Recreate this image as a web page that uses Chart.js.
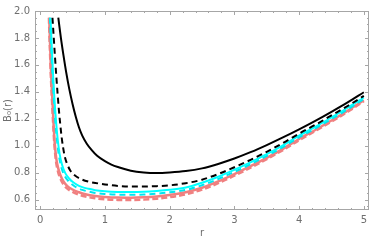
<!DOCTYPE html>
<html>
<head>
<meta charset="utf-8">
<script src="https://cdn.jsdelivr.net/npm/chart.js@4.4.1/dist/chart.umd.min.js"></script>
<style>
  body { margin: 0; background: #fff; }
  canvas { display: block; }
</style>
</head>
<body>
<canvas id="b0_chart" width="374" height="242"></canvas>
<script>
// values, r on x, B0(r) on y
let rBlack = [0.28,0.32,0.36,0.4,0.45,0.5,0.55,0.6,0.65,0.72,0.8,0.88,1.0,1.1,1.2,1.4,1.6,1.8,2.0,2.25,2.5,2.75,3.0,3.25,3.5,3.75,4.0,4.25,4.5,4.75,5.0];
let bBlack = [1.95,1.80,1.67,1.55,1.42,1.31,1.215,1.135,1.075,1.015,0.965,0.925,0.885,0.86,0.842,0.815,0.802,0.798,0.802,0.812,0.832,0.865,0.905,0.952,1.005,1.062,1.122,1.185,1.252,1.322,1.397];

let rBlackDash = [0.19,0.21,0.23,0.25,0.27,0.29,0.31,0.33,0.35,0.38,0.42,0.46,0.5,0.57,0.65,0.75,0.85,1.0,1.2,1.4,1.6,1.8,2.0,2.25,2.5,2.75,3.0,3.25,3.5,3.75,4.0,4.25,4.5,4.75,5.0];
let bBlackDash = [1.95,1.80,1.65,1.51,1.38,1.26,1.16,1.07,1.0,0.92,0.86,0.82,0.795,0.768,0.748,0.733,0.724,0.713,0.702,0.697,0.697,0.70,0.706,0.722,0.748,0.79,0.84,0.895,0.955,1.02,1.09,1.155,1.225,1.295,1.37];

let rCyan = [0.16,0.18,0.2,0.22,0.247,0.27,0.3,0.34,0.39,0.45,0.5,0.57,0.65,0.75,0.85,1.0,1.2,1.4,1.6,1.8,2.0,2.25,2.5,2.75,3.0,3.25,3.5,3.75,4.0,4.25,4.5,4.75,5.0];
let bCyan = [1.95,1.72,1.52,1.35,1.17,1.05,0.94,0.855,0.795,0.755,0.732,0.71,0.693,0.68,0.67,0.662,0.657,0.656,0.658,0.664,0.673,0.69,0.725,0.77,0.822,0.877,0.937,1.003,1.075,1.14,1.21,1.282,1.358];

let rCyanDash = [0.15,0.17,0.19,0.21,0.235,0.26,0.29,0.33,0.38,0.44,0.5,0.57,0.65,0.75,0.85,1.0,1.2,1.4,1.6,1.8,2.0,2.25,2.5,2.75,3.0,3.25,3.5,3.75,4.0,4.25,4.5,4.75,5.0];
let bCyanDash = [1.95,1.72,1.52,1.35,1.17,1.04,0.925,0.835,0.775,0.735,0.71,0.688,0.672,0.66,0.65,0.642,0.637,0.636,0.638,0.644,0.654,0.672,0.707,0.753,0.806,0.863,0.924,0.99,1.062,1.128,1.198,1.27,1.347];

let rPink = [0.14,0.155,0.17,0.19,0.206,0.225,0.25,0.28,0.31,0.36,0.42,0.5,0.6,0.7,0.85,1.0,1.2,1.4,1.6,1.8,2.0,2.25,2.5,2.75,3.0,3.25,3.5,3.75,4.0,4.25,4.5,4.75,5.0];
let bPink = [1.95,1.72,1.52,1.33,1.17,1.02,0.9,0.83,0.785,0.735,0.70,0.675,0.655,0.64,0.627,0.62,0.615,0.614,0.617,0.624,0.635,0.655,0.688,0.735,0.79,0.848,0.91,0.977,1.05,1.117,1.187,1.26,1.338];

let rPinkDash = [0.135,0.15,0.165,0.183,0.2,0.218,0.243,0.272,0.3,0.35,0.41,0.5,0.6,0.7,0.85,1.0,1.2,1.4,1.6,1.8,2.0,2.25,2.5,2.75,3.0,3.25,3.5,3.75,4.0,4.25,4.5,4.75,5.0];
let bPinkDash = [1.95,1.72,1.52,1.33,1.17,1.02,0.89,0.815,0.77,0.72,0.685,0.657,0.637,0.623,0.61,0.603,0.598,0.597,0.6,0.607,0.618,0.64,0.674,0.722,0.778,0.837,0.9,0.968,1.041,1.109,1.179,1.252,1.33];

let xTicks = [0,1,2,3,4,5];
let yTicks = [0.6,0.8,1.0,1.2,1.4,1.6,1.8,2.0];

const axisGray = "#a6a6a6";
const labelGray = "#6e6e6e";

function pts(rs, bs) {
    return rs.map((r, i) => ({x: r, y: bs[i]}));
}

function line(rs, bs, color, dash, width) {
    return {
        data: pts(rs, bs),
        borderColor: color,
        borderWidth: width,
        borderDash: dash,
        pointRadius: 0,
        fill: false,
        cubicInterpolationMode: "monotone"
    };
}

// Mathematica-like frame with inward ticks on all four sides
const frameTicks = {
    id: "frameTicks",
    afterDatasetsDraw(chart) {
        let ctx = chart.ctx;
        let a = chart.chartArea;
        let xs = chart.scales.x, ys = chart.scales.y;
        ctx.save();
        ctx.strokeStyle = axisGray;
        ctx.lineWidth = 1;
        ctx.strokeRect(a.left + 0.5, a.top + 0.5, a.right - a.left - 1, a.bottom - a.top - 1);
        ctx.beginPath();
        for (let i = 0; i <= 25; i++) {
            let v = i * 0.2;
            let len = (i % 5 == 0) ? 4 : 2;
            let px = Math.round(xs.getPixelForValue(v)) + 0.5;
            ctx.moveTo(px, a.bottom); ctx.lineTo(px, a.bottom - len);
            ctx.moveTo(px, a.top); ctx.lineTo(px, a.top + len);
        }
        for (let i = 11; i <= 40; i++) {
            let v = i * 0.05;
            let len = (i % 4 == 0) ? 4 : 2;
            let py = Math.round(ys.getPixelForValue(v)) + 0.5;
            ctx.moveTo(a.left, py); ctx.lineTo(a.left + len, py);
            ctx.moveTo(a.right, py); ctx.lineTo(a.right - len, py);
        }
        ctx.stroke();
        ctx.restore();
    }
};

new Chart("b0_chart", {
    type: "line",
    data: {
        datasets: [
            line(rBlack, bBlack, "#000000", [], 2),
            line(rBlackDash, bBlackDash, "#000000", [6, 4], 2),
            line(rCyan, bCyan, "#00ffff", [], 2),
            line(rCyanDash, bCyanDash, "#00e5ee", [6, 4], 2),
            line(rPink, bPink, "#f08080", [], 2.5),
            line(rPinkDash, bPinkDash, "#f08080", [6, 3], 2.5)
        ]
    },
    options: {
        responsive: false,
        animation: false,
        devicePixelRatio: 1,
        layout: {padding: {top: 5, right: 5, left: 0, bottom: 0}},
        plugins: {legend: {display: false}, tooltip: {enabled: false}},
        scales: {
            x: {
                type: "linear",
                min: -0.08,
                max: 5.08,
                grid: {display: false, drawTicks: false},
                border: {display: false},
                afterBuildTicks: s => { s.ticks = xTicks.map(v => ({value: v})); },
                afterFit: s => { s.height = 32; },
                ticks: {color: labelGray, padding: 4, font: {family: "DejaVu Sans", size: 10}},
                title: {display: true, text: "r", color: labelGray, padding: {top: 2, bottom: 3}, font: {family: "DejaVu Sans", size: 10}}
            },
            y: {
                type: "linear",
                min: 0.523,
                max: 2.0,
                grid: {display: false, drawTicks: false},
                border: {display: false},
                afterBuildTicks: s => { s.ticks = yTicks.map(v => ({value: v})); },
                afterFit: s => { s.width = 35; },
                ticks: {color: labelGray, padding: 5, font: {family: "DejaVu Sans", size: 10},
                        callback: v => v.toFixed(1)},
                title: {display: true, text: "B₀(r)", color: labelGray, padding: {top: 2, bottom: 0}, font: {family: "DejaVu Sans", size: 10}}
            }
        }
    },
    plugins: [frameTicks]
});
</script>
</body>
</html>
